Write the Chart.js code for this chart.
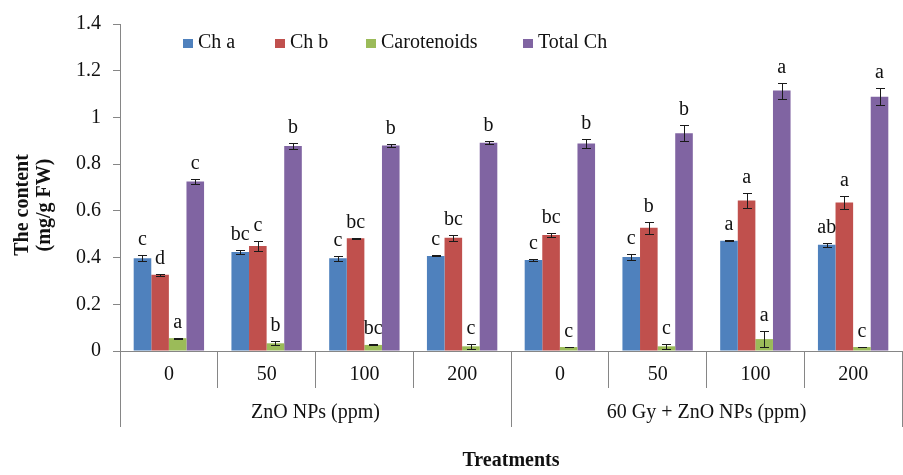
<!DOCTYPE html>
<html>
<head>
<meta charset="utf-8">
<script src="https://cdn.jsdelivr.net/npm/chart.js@4"></script>
<style>
  html, body { margin: 0; padding: 0; background: #fff; }
  #wrap { width: 903px; height: 475px; position: relative; }
</style>
</head>
<body>
<div id="wrap"><canvas id="chlChart"></canvas></div>
<script>
// ========== Data ==========
const categories = ['0', '50', '100', '200', '0', '50', '100', '200'];
const groups = ['ZnO NPs (ppm)', '60 Gy + ZnO NPs (ppm)'];
const groupSize = 4;

const chA      = [0.397, 0.424, 0.397, 0.407, 0.390, 0.402, 0.472, 0.455];
const chAErr   = [0.013, 0.008, 0.010, 0.002, 0.006, 0.012, 0.002, 0.008];
const chB      = [0.326, 0.450, 0.483, 0.485, 0.497, 0.528, 0.644, 0.636];
const chBErr   = [0.005, 0.022, 0.002, 0.012, 0.010, 0.025, 0.032, 0.028];
const carot    = [0.055, 0.033, 0.026, 0.020, 0.017, 0.020, 0.051, 0.017];
const carotErr = [0.002, 0.008, 0.002, 0.012, 0.002, 0.012, 0.035, 0.002];
const totalCh  = [0.726, 0.878, 0.880, 0.892, 0.888, 0.932, 1.115, 1.089];
const totalErr = [0.012, 0.012, 0.006, 0.006, 0.020, 0.034, 0.034, 0.037];

const chALetters    = ['c', 'bc', 'c', 'c', 'c', 'c', 'a', 'ab'];
const chBLetters    = ['d', 'c', 'bc', 'bc', 'bc', 'b', 'a', 'a'];
const carotLetters  = ['a', 'b', 'bc', 'c', 'c', 'c', 'a', 'c'];
const totalLetters  = ['c', 'b', 'b', 'b', 'b', 'b', 'a', 'a'];

const yTicks = [0, 0.2, 0.4, 0.6, 0.8, 1, 1.2, 1.4];

const serif = '"Liberation Serif", "Times New Roman", serif';
const axisGray = '#868686';

// ========== Plugins ==========
const errorBarsPlugin = {
    id: 'errorBars',
    afterDatasetsDraw(chart) {
        const ctx = chart.ctx;
        const y = chart.scales.y;
        ctx.save();
        chart.data.datasets.forEach((ds, di) => {
            const meta = chart.getDatasetMeta(di);
            meta.data.forEach((bar, i) => {
                const v = ds.data[i], e = ds.errors[i];
                const top = Math.round(y.getPixelForValue(v + e)) + 0.5;
                const bot = Math.round(y.getPixelForValue(v - e)) + 0.5;
                const x = Math.round(bar.x) + 0.5;
                ctx.strokeStyle = '#1a1a1a';
                ctx.lineWidth = 1;
                ctx.beginPath();
                ctx.moveTo(x, top); ctx.lineTo(x, bot);
                ctx.moveTo(x - 4.5, top); ctx.lineTo(x + 4.5, top);
                ctx.moveTo(x - 4.5, bot); ctx.lineTo(x + 4.5, bot);
                ctx.stroke();
                ctx.fillStyle = '#111';
                ctx.font = '20px ' + serif;
                ctx.textAlign = 'center';
                ctx.textBaseline = 'alphabetic';
                ctx.fillText(ds.letters[i], bar.x, top - 11);
            });
        });
        ctx.restore();
    }
};

const decorPlugin = {
    id: 'decor',
    afterDraw(chart) {
        const ctx = chart.ctx;
        const x = chart.scales.x;
        const area = chart.chartArea;
        const step = x.getPixelForValue(1) - x.getPixelForValue(0);
        ctx.save();

        // group separators and group labels
        ctx.strokeStyle = axisGray;
        ctx.lineWidth = 1;
        const edges = [];
        for (let g = 0; g <= groups.length; g++) {
            edges.push(x.getPixelForValue(g * groupSize) - step / 2);
        }
        ctx.beginPath();
        edges.forEach(px => {
            const p = Math.round(px) + 0.5;
            ctx.moveTo(p, area.bottom);
            ctx.lineTo(p, area.bottom + 76);
        });
        ctx.stroke();
        ctx.fillStyle = '#111';
        ctx.font = '20px ' + serif;
        ctx.textAlign = 'center';
        ctx.textBaseline = 'middle';
        groups.forEach((g, i) => {
            ctx.fillText(g, (edges[i] + edges[i + 1]) / 2, area.bottom + 62);
        });

        // x axis title
        ctx.font = 'bold 20px ' + serif;
        ctx.fillText('Treatments', (area.left + area.right) / 2, 461);

        // y axis title
        ctx.translate(34, 205);
        ctx.rotate(-Math.PI / 2);
        ctx.font = 'bold 20px ' + serif;
        ctx.fillText('The content', 0, -11);
        ctx.fillText('(mg/g FW)', 0, 11);
        ctx.setTransform(1, 0, 0, 1, 0, 0);

        // legend
        const legendX = [183, 275, 366, 523];
        ctx.font = '20px ' + serif;
        ctx.textAlign = 'left';
        chart.data.datasets.forEach((ds, i) => {
            ctx.fillStyle = ds.backgroundColor;
            ctx.fillRect(legendX[i], 39, 10, 9);
            ctx.fillStyle = '#111';
            ctx.fillText(ds.label, legendX[i] + 15, 43);
        });
        ctx.restore();
    }
};

// ========== Chart ==========
const chlCtx = document.getElementById('chlChart');
const chlData = {
    labels: categories,
    datasets: [
        { label: 'Ch a', data: chA, errors: chAErr, letters: chALetters, backgroundColor: '#4F81BD' },
        { label: 'Ch b', data: chB, errors: chBErr, letters: chBLetters, backgroundColor: '#C0504D' },
        { label: 'Carotenoids', data: carot, errors: carotErr, letters: carotLetters, backgroundColor: '#9BBB59' },
        { label: 'Total Ch', data: totalCh, errors: totalErr, letters: totalLetters, backgroundColor: '#8064A2' }
    ]
};
new Chart(chlCtx, {
    type: 'bar',
    data: chlData,
    plugins: [errorBarsPlugin, decorPlugin],
    options: {
        responsive: true,
        maintainAspectRatio: false,
        animation: false,
        layout: { padding: { top: 22, right: 1, left: 0, bottom: 0 } },
        datasets: { bar: { categoryPercentage: 0.72, barPercentage: 1.0 } },
        plugins: {
            legend: { display: false },
            tooltip: { enabled: false }
        },
        scales: {
            x: {
                offset: true,
                grid: {
                    offset: true,
                    drawOnChartArea: false,
                    drawTicks: true,
                    tickLength: 37,
                    color: axisGray
                },
                border: { color: axisGray },
                ticks: {
                    color: '#111',
                    padding: -25,
                    font: { family: serif, size: 20 },
                    maxRotation: 0
                },
                afterFit: s => { s.height = 124; }
            },
            y: {
                min: 0,
                max: 1.4,
                afterBuildTicks: s => { s.ticks = yTicks.map(v => ({ value: v })); },
                grid: {
                    drawOnChartArea: false,
                    drawTicks: true,
                    tickLength: 7,
                    color: axisGray
                },
                border: { color: axisGray },
                ticks: {
                    color: '#111',
                    padding: 12,
                    font: { family: serif, size: 20 },
                    callback: v => String(v)
                },
                afterFit: s => { s.width = 120; }
            }
        }
    }
});
</script>
</body>
</html>
